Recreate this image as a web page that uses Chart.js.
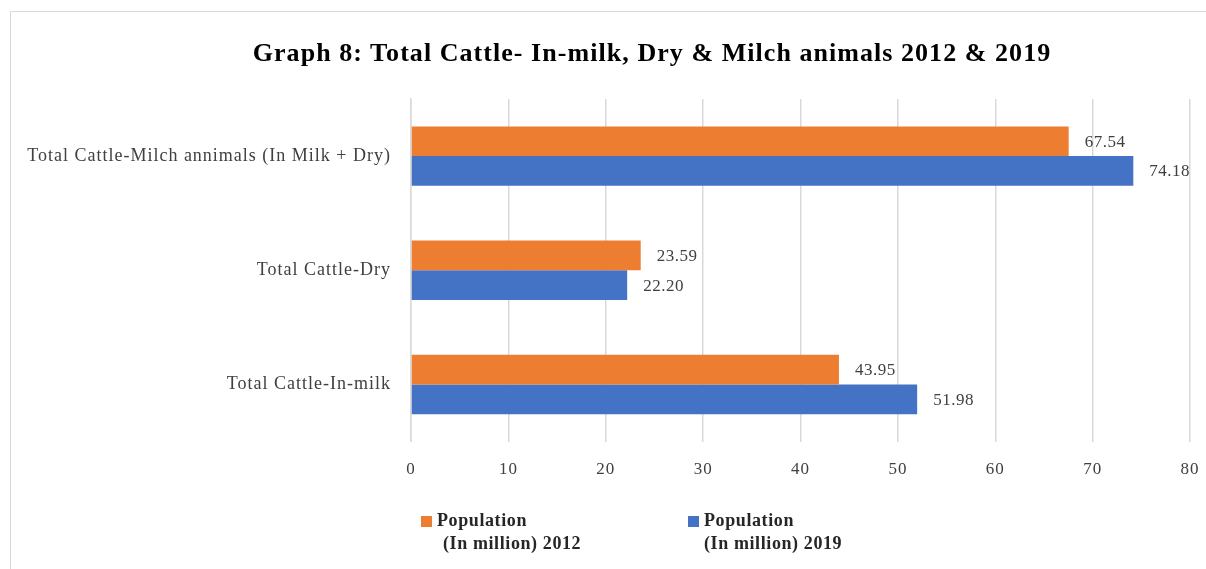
<!DOCTYPE html>
<html><head><meta charset="utf-8">
<script src="https://cdn.jsdelivr.net/npm/chart.js@4"></script>
<style>
html,body{margin:0;padding:0;background:#fff;}
#wrap{position:relative;width:1206px;height:569px;overflow:hidden;}
#frame{position:absolute;left:10px;top:11px;width:1300px;height:700px;border:1px solid #d9d9d9;box-sizing:border-box;}
canvas{position:absolute;left:0;top:0;}
#title{position:absolute;left:152px;top:38px;width:1000px;text-align:center;font-family:"Liberation Serif",serif;font-weight:bold;font-size:26px;letter-spacing:1.05px;line-height:30px;color:#000;white-space:nowrap;}
.leg{position:absolute;font-family:"Liberation Serif",serif;font-weight:bold;font-size:18px;letter-spacing:0.6px;color:#262626;line-height:22px;white-space:nowrap;}
.sw{position:absolute;width:11px;height:11px;}
</style></head>
<body><div id="wrap"><div id="frame"></div><canvas id="c" width="1206" height="569"></canvas><div id="title"></div><div id="legend"></div></div>
<script>
const titleText = "Graph 8: Total Cattle- In-milk, Dry & Milch animals 2012 & 2019";
const categories = ["Total Cattle-Milch annimals (In Milk + Dry)", "Total Cattle-Dry", "Total Cattle-In-milk"];
const series2012 = [67.54, 23.59, 43.95];
const series2019 = [74.18, 22.20, 51.98];
const seriesNames = [["Population", "(In million) 2012"], ["Population", "(In million) 2019"]];
const seriesColors = ["#ED7D31", "#4472C4"];
const xTicks = [0, 10, 20, 30, 40, 50, 60, 70, 80];

document.getElementById('title').textContent = titleText;

const spacingPlugin = {
  id: 'spacing',
  beforeInit(chart) { chart.ctx.letterSpacing = '1px'; },
  beforeUpdate(chart) { chart.ctx.letterSpacing = '1px'; },
  beforeDraw(chart) { chart.ctx.letterSpacing = '1px'; }
};

const labelPlugin = {
  id: 'vals',
  afterDatasetsDraw(chart) {
    const ctx = chart.ctx;
    ctx.save();
    ctx.letterSpacing = '0.5px';
    ctx.font = '17px "Liberation Serif", serif';
    ctx.fillStyle = '#404040';
    ctx.textBaseline = 'middle';
    ctx.textAlign = 'left';
    chart.data.datasets.forEach((ds, di) => {
      chart.getDatasetMeta(di).data.forEach((el, i) => {
        ctx.fillText(ds.data[i].toFixed(2), el.x + 16, el.y + 1);
      });
    });
    ctx.restore();
  }
};

new Chart(document.getElementById('c'), {
  type: 'bar',
  data: {
    labels: categories,
    datasets: [
      { label: seriesNames[0].join(' '), data: series2012, backgroundColor: seriesColors[0], categoryPercentage: 0.52, barPercentage: 1 },
      { label: seriesNames[1].join(' '), data: series2019, backgroundColor: seriesColors[1], categoryPercentage: 0.52, barPercentage: 1 }
    ]
  },
  options: {
    indexAxis: 'y',
    responsive: false,
    animation: false,
    layout: { padding: { left: 10, right: 0, top: 99, bottom: 71 } },
    plugins: {
      legend: { display: false },
      tooltip: { enabled: false },
      title: { display: false }
    },
    scales: {
      x: {
        min: xTicks[0], max: xTicks[xTicks.length - 1],
        afterBuildTicks(s) { s.ticks = xTicks.map(v => ({ value: v })); },
        afterFit(s) { s.paddingRight = 16; s.paddingLeft = 0; },
        grid: { color: '#d9d9d9', lineWidth: 1.5, drawTicks: false },
        border: { display: false },
        ticks: { color: '#404040', padding: 18, font: { family: '"Liberation Serif", serif', size: 17 } }
      },
      y: {
        grid: { display: false, drawTicks: false },
        border: { display: true, color: '#d9d9d9', width: 1.5 },
        afterFit(s) { s.width = 401; },
        ticks: { color: '#404040', padding: 20, font: { family: '"Liberation Serif", serif', size: 18 } }
      }
    }
  },
  plugins: [spacingPlugin, labelPlugin]
});

const legend = document.getElementById('legend');
const legPos = [[421, 437, 443], [688, 704, 704]];
seriesNames.forEach((n, i) => {
  const sw = document.createElement('div');
  sw.className = 'sw'; sw.style.background = seriesColors[i];
  sw.style.left = legPos[i][0] + 'px'; sw.style.top = '516px';
  legend.appendChild(sw);
  const t1 = document.createElement('div');
  t1.className = 'leg'; t1.textContent = n[0];
  t1.style.left = legPos[i][1] + 'px'; t1.style.top = '509px';
  legend.appendChild(t1);
  const t2 = document.createElement('div');
  t2.className = 'leg'; t2.textContent = n[1];
  t2.style.left = legPos[i][2] + 'px'; t2.style.top = '532px';
  legend.appendChild(t2);
});
</script></body></html>
